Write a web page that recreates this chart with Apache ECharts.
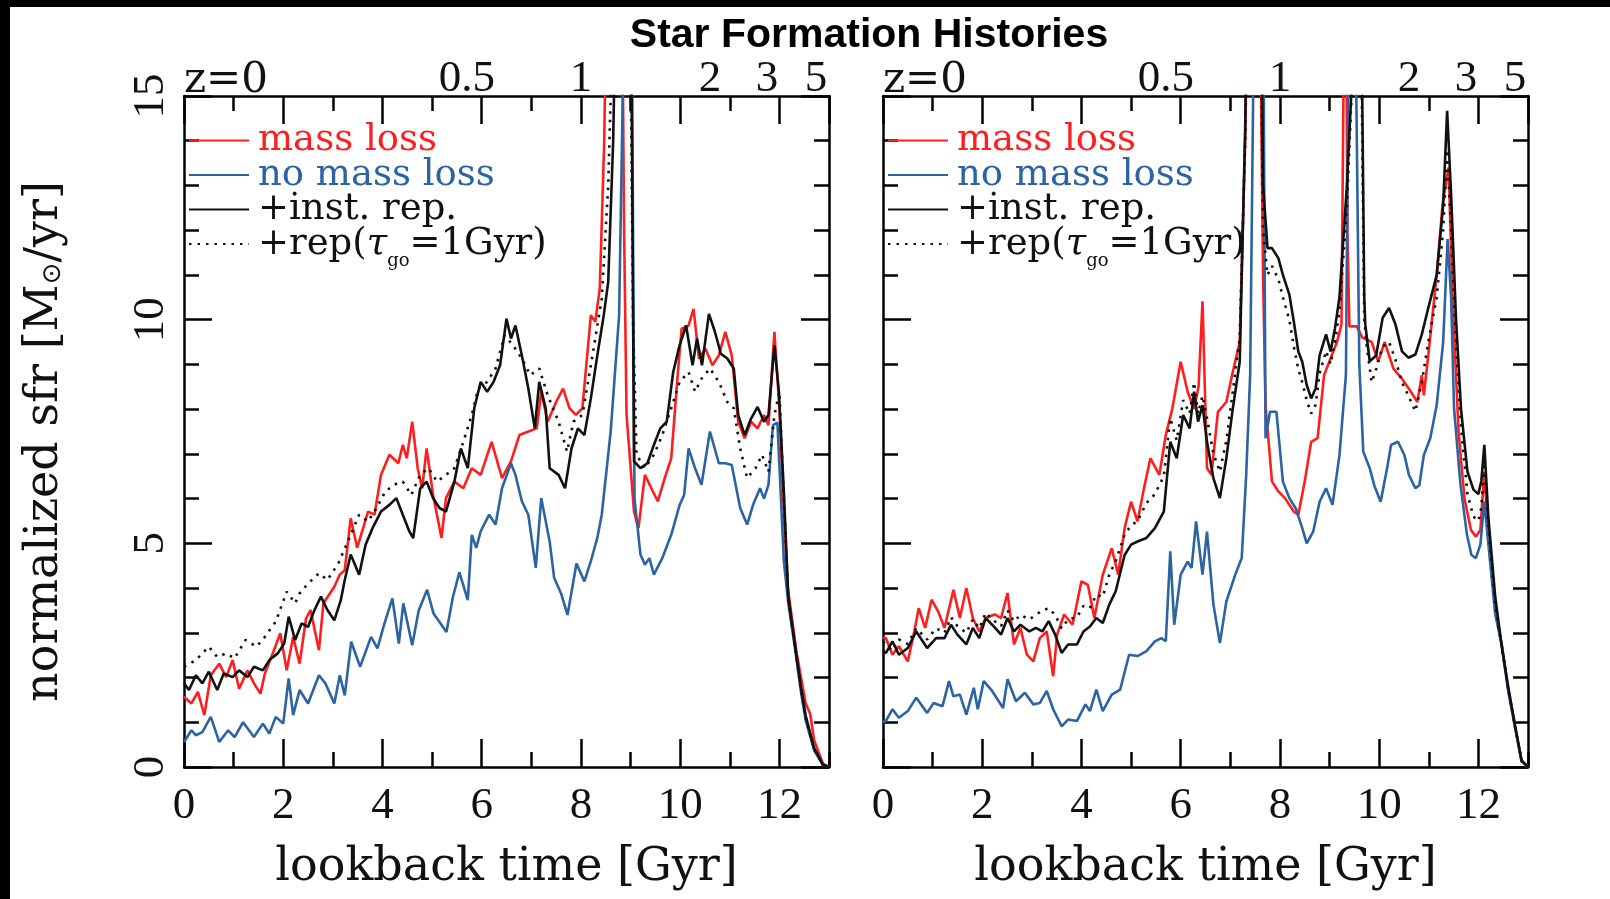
<!DOCTYPE html>
<html>
<head>
<meta charset="utf-8">
<title>Star Formation Histories</title>
<script src="https://cdn.jsdelivr.net/npm/echarts@6/dist/echarts.min.js"></script>
<style>
  html, body { margin: 0; padding: 0; background: #fff; }
  #chart { width: 1610px; height: 899px; }
</style>
</head>
<body>
<div id="chart"></div>
<script>
// ---- tick labels -------------------------------------------------------
const xTickStep = 2;                       // lookback time labels every 2 Gyr
const yTickStep = 5;                       // sfr labels every 5
const zLabels = ['z=0', '0.5', '1', '2', '3', '5'];
const zLookback = [0, 5.7, 8.0, 10.6, 11.75, 12.74];   // Gyr where each redshift label sits

const seriesNames = ['mass loss', 'no mass loss', '+inst. rep.', '+rep(\u03c4go=1Gyr)'];

// ---- left panel: [lookback time (Gyr), normalized sfr] -------------------
const leftMassLoss = [[0,1.57],[0.15,1.42],[0.28,1.68],[0.41,1.16],[0.54,2.05],[0.71,2.31],[0.85,2.01],[0.98,2.39],[1.11,1.75],[1.28,2.16],[1.41,1.87],[1.54,1.64],[1.63,2.09],[1.8,2.57],[1.94,2.99],[2.07,2.16],[2.2,2.91],[2.33,2.31],[2.46,3.32],[2.55,3.51],[2.72,2.61],[2.81,3.66],[3.03,4.03],[3.14,4.3],[3.24,4.4],[3.36,5.56],[3.49,4.9],[3.71,5.71],[3.84,5.64],[3.97,6.53],[4.14,6.98],[4.32,6.79],[4.41,7.2],[4.49,6.9],[4.6,7.72],[4.71,6.68],[4.8,6.23],[4.89,7.12],[5.02,6.08],[5.19,5.12],[5.28,6.01],[5.45,6.38],[5.63,6.23],[5.8,6.68],[5.98,6.53],[6.2,7.27],[6.41,6.46],[6.59,6.83],[6.76,7.42],[6.94,7.5],[7.11,7.57],[7.2,8.39],[7.33,7.72],[7.5,8.16],[7.64,8.46],[7.77,8.02],[7.9,7.87],[8.03,8.02],[8.2,10.1],[8.29,9.95],[8.38,10.7],[8.47,14],[8.55,20],[8.7,24],[8.82,19],[8.87,12],[8.92,7.87],[9.07,5.71],[9.16,5.34],[9.29,6.53],[9.42,6.23],[9.55,5.94],[9.69,6.46],[9.82,6.9],[9.95,8.76],[10.03,9.8],[10.17,9.87],[10.27,10.24],[10.38,9.13],[10.51,9.35],[10.65,8.98],[10.78,9.2],[10.91,9.73],[11.04,9.2],[11.17,7.72],[11.3,7.35],[11.43,7.72],[11.56,7.57],[11.69,7.87],[11.78,7.64],[11.9,9.73],[12.0,8.02],[12.09,5.64],[12.17,4.0],[12.35,2.54],[12.53,1.42],[12.62,1.19],[12.7,0.6],[12.88,0.07],[13.0,0]];

const leftNoMassLoss = [[0,0.56],[0.15,0.82],[0.24,0.71],[0.37,0.78],[0.54,1.12],[0.71,0.56],[0.89,0.82],[1.02,0.67],[1.19,1.0],[1.41,0.67],[1.59,0.97],[1.72,0.75],[1.85,1.12],[2.0,0.97],[2.11,1.98],[2.2,1.16],[2.33,1.72],[2.5,1.42],[2.72,2.05],[2.85,1.87],[3.03,1.42],[3.14,2.05],[3.24,1.6],[3.37,2.8],[3.55,2.24],[3.77,2.91],[3.9,2.65],[4.03,3.17],[4.2,3.77],[4.33,2.76],[4.42,3.66],[4.6,2.72],[4.73,3.5],[4.9,3.96],[5.03,3.43],[5.29,3.02],[5.42,3.8],[5.55,4.35],[5.72,3.73],[5.8,5.19],[5.89,4.9],[5.98,5.27],[6.15,5.64],[6.28,5.42],[6.41,6.23],[6.59,6.79],[6.68,6.53],[6.81,5.94],[6.94,5.64],[7.09,4.45],[7.2,6.01],[7.37,5.04],[7.46,4.23],[7.6,3.88],[7.73,3.4],[7.91,4.55],[8.07,4.15],[8.2,4.6],[8.33,5.12],[8.42,5.64],[8.6,7.5],[8.77,10.1],[8.85,15.5],[8.95,24],[9.03,16],[9.08,6.0],[9.2,4.75],[9.29,4.52],[9.38,4.67],[9.47,4.3],[9.64,4.67],[9.82,5.19],[9.99,5.86],[10.08,6.08],[10.17,7.12],[10.3,6.68],[10.43,6.31],[10.6,7.5],[10.78,6.79],[10.91,6.79],[11.04,6.75],[11.21,5.79],[11.35,5.42],[11.47,5.86],[11.61,6.23],[11.69,6.0],[11.78,6.31],[11.87,7.64],[11.96,7.7],[12.09,4.6],[12.18,3.66],[12.31,2.69],[12.44,1.64],[12.53,1.04],[12.7,0.37],[12.88,0.04],[13,0]];

const leftInstRep = [[0,1.87],[0.1,1.72],[0.24,2.05],[0.37,1.87],[0.5,2.13],[0.67,1.72],[0.8,2.09],[0.98,2.01],[1.11,2.16],[1.28,2.01],[1.41,2.24],[1.59,2.16],[1.72,2.39],[1.89,2.54],[2.02,2.76],[2.11,3.36],[2.24,2.84],[2.37,3.21],[2.5,3.13],[2.63,3.51],[2.76,3.81],[2.89,3.51],[3.03,3.28],[3.16,3.73],[3.24,4.18],[3.36,4.75],[3.53,4.3],[3.66,4.97],[3.8,5.34],[3.97,5.71],[4.14,5.86],[4.28,6.01],[4.41,5.64],[4.54,5.27],[4.62,5.12],[4.76,6.23],[4.89,6.38],[5.02,6.01],[5.15,5.79],[5.28,5.71],[5.45,6.38],[5.58,7.12],[5.72,6.68],[5.85,8.02],[5.98,8.61],[6.11,8.39],[6.24,8.61],[6.37,8.98],[6.5,10.02],[6.59,9.58],[6.68,9.87],[6.81,9.2],[6.94,8.46],[7.07,7.57],[7.16,8.61],[7.29,8.02],[7.37,6.68],[7.55,6.53],[7.68,6.23],[7.81,7.12],[7.94,7.57],[8.07,7.42],[8.2,8.24],[8.33,9.2],[8.46,10.1],[8.55,10.84],[8.65,14],[8.75,20],[8.9,23],[9.0,19],[9.04,12],[9.07,6.83],[9.2,6.68],[9.34,6.79],[9.47,7.2],[9.6,7.57],[9.73,7.72],[9.86,8.83],[9.99,9.43],[10.12,9.87],[10.25,8.98],[10.34,9.58],[10.44,8.98],[10.58,10.13],[10.7,9.73],[10.82,9.24],[10.95,9.13],[11.08,8.91],[11.17,7.87],[11.3,7.42],[11.43,7.79],[11.56,8.05],[11.69,7.72],[11.78,7.87],[11.9,9.43],[11.99,8.39],[12.09,6.16],[12.18,3.8],[12.31,2.75],[12.44,1.75],[12.53,1.15],[12.7,0.42],[12.88,0.05],[13,0]];

const leftDelayedRep = [[0,2.24],[0.24,2.39],[0.5,2.69],[0.67,2.46],[0.85,2.54],[1.02,2.43],[1.24,2.84],[1.46,2.69],[1.63,2.91],[1.85,3.25],[2.07,3.92],[2.24,3.66],[2.33,3.88],[2.5,4.1],[2.72,4.33],[2.89,4.18],[3.11,4.55],[3.36,5.19],[3.53,5.64],[3.71,5.49],[3.88,5.79],[4.06,6.16],[4.23,6.31],[4.41,6.38],[4.58,6.08],[4.76,6.53],[4.93,6.68],[5.1,6.38],[5.28,6.53],[5.45,6.68],[5.63,7.27],[5.8,7.87],[5.93,8.46],[6.11,8.61],[6.28,8.91],[6.46,9.65],[6.63,9.43],[6.81,9.13],[6.98,8.76],[7.16,8.91],[7.33,8.31],[7.55,7.72],[7.72,7.05],[7.85,7.72],[8.03,7.87],[8.2,8.98],[8.42,10.47],[8.55,13],[8.7,19],[8.9,21],[9.0,16],[9.05,10],[9.12,6.98],[9.29,6.68],[9.47,6.98],[9.64,7.42],[9.82,8.02],[9.99,8.61],[10.17,8.83],[10.3,8.39],[10.43,8.68],[10.6,8.91],[10.78,8.61],[10.95,8.16],[11.08,8.02],[11.21,7.12],[11.35,6.46],[11.52,6.68],[11.65,6.98],[11.78,6.6],[11.9,7.87],[12.0,8.39],[12.09,6.0],[12.18,3.75],[12.31,2.72],[12.44,1.7],[12.53,1.1],[12.7,0.4],[12.88,0.05],[13,0]];

// ---- right panel --------------------------------------------------------
const rightMassLoss = [[0,2.9],[0.06,2.88],[0.19,2.51],[0.32,2.7],[0.5,2.36],[0.63,3.03],[0.72,3.55],[0.85,3.11],[0.98,3.74],[1.11,3.48],[1.24,3.11],[1.42,3.96],[1.55,3.33],[1.68,4.0],[1.81,3.33],[1.94,3.03],[2.07,3.33],[2.25,3.41],[2.38,3.33],[2.51,3.89],[2.64,2.74],[2.77,3.11],[2.9,2.51],[3.03,2.36],[3.16,2.88],[3.3,3.03],[3.43,2.03],[3.51,2.96],[3.65,3.41],[3.82,3.18],[4.0,4.15],[4.13,4.07],[4.26,3.33],[4.43,4.3],[4.61,4.89],[4.74,4.3],[4.87,5.34],[5.0,5.93],[5.13,5.49],[5.26,6.23],[5.39,6.9],[5.57,6.53],[5.7,7.42],[5.83,8.01],[6.0,9.06],[6.14,8.39],[6.27,8.01],[6.36,8.5],[6.44,10.41],[6.53,6.68],[6.62,6.53],[6.75,7.94],[6.92,8.16],[7.05,8.83],[7.19,9.5],[7.3,14],[7.38,20],[7.5,24],[7.6,17],[7.66,11],[7.71,8.09],[7.84,6.38],[7.97,6.16],[8.1,6.01],[8.28,5.71],[8.37,5.64],[8.5,6.38],[8.63,7.27],[8.76,7.35],[8.89,8.76],[9.02,9.13],[9.15,9.5],[9.24,9.89],[9.28,15],[9.32,20],[9.36,12],[9.4,9.85],[9.55,9.85],[9.66,9.6],[9.85,9.5],[9.98,9.06],[10.11,9.5],[10.29,8.9],[10.46,8.68],[10.64,8.39],[10.77,8.16],[10.86,8.76],[10.9,8.31],[10.99,9.2],[11.16,11.0],[11.28,12.6],[11.4,13.4],[11.48,10.5],[11.6,7.5],[11.72,6.0],[11.85,5.3],[11.95,5.15],[12.04,5.3],[12.12,6.6],[12.2,5.2],[12.34,3.5],[12.47,2.75],[12.6,1.75],[12.74,0.9],[12.87,0.13],[13,0]];

const rightNoMassLoss = [[0,1.0],[0.06,1.03],[0.19,1.29],[0.32,1.1],[0.5,1.25],[0.67,1.55],[0.89,1.21],[1.02,1.43],[1.2,1.36],[1.33,1.92],[1.42,1.58],[1.55,1.62],[1.68,1.17],[1.83,1.77],[1.91,1.29],[2.03,1.92],[2.2,1.7],[2.42,1.32],[2.51,1.96],[2.68,1.47],[2.86,1.66],[3.03,1.4],[3.16,1.43],[3.3,1.7],[3.43,1.29],[3.6,0.91],[3.73,1.06],[3.91,1.03],[4.08,1.4],[4.17,1.25],[4.3,1.73],[4.43,1.25],[4.61,1.62],[4.78,1.73],[4.96,2.51],[5.13,2.48],[5.31,2.59],[5.48,2.81],[5.61,2.88],[5.7,2.81],[5.79,4.82],[5.87,3.18],[6.0,4.3],[6.14,4.59],[6.22,4.45],[6.31,5.49],[6.44,4.3],[6.53,5.26],[6.66,3.63],[6.79,2.77],[6.92,3.7],[7.1,4.3],[7.23,4.67],[7.32,6.53],[7.4,8.76],[7.47,16],[7.58,24],[7.67,16],[7.71,7.35],[7.8,7.94],[7.93,7.94],[8.06,6.38],[8.19,6.01],[8.32,5.78],[8.45,5.34],[8.54,5.0],[8.67,5.26],[8.8,5.93],[8.93,6.23],[9.06,5.86],[9.2,6.97],[9.33,8.76],[9.38,15.5],[9.45,24],[9.53,16],[9.6,9],[9.68,7.05],[9.81,6.68],[9.9,6.3],[10.03,5.93],[10.16,6.68],[10.24,7.2],[10.38,7.27],[10.51,6.97],[10.6,6.53],[10.73,6.23],[10.81,6.3],[10.9,6.97],[11.03,7.35],[11.16,8.09],[11.29,9.5],[11.38,11.8],[11.45,10.5],[11.51,8.01],[11.64,6.3],[11.77,5.19],[11.86,4.74],[11.95,4.67],[12.04,4.97],[12.12,5.93],[12.21,4.89],[12.34,3.41],[12.47,2.74],[12.6,1.7],[12.74,0.88],[12.87,0.13],[13,0]];

const rightInstRep = [[0,2.6],[0.06,2.55],[0.19,2.81],[0.32,2.51],[0.5,2.66],[0.67,3.03],[0.89,2.66],[1.07,2.88],[1.24,2.88],[1.37,3.18],[1.5,2.96],[1.68,2.74],[1.81,3.11],[1.94,2.88],[2.07,3.33],[2.2,3.18],[2.38,2.96],[2.51,3.33],[2.64,3.03],[2.77,3.18],[2.95,3.03],[3.08,3.11],[3.21,3.03],[3.34,3.26],[3.47,2.96],[3.6,2.55],[3.73,2.74],[3.91,2.74],[4.04,3.03],[4.17,3.14],[4.3,3.33],[4.43,3.22],[4.56,3.63],[4.69,3.93],[4.87,4.74],[5.0,4.97],[5.13,5.04],[5.31,5.12],[5.48,5.34],[5.66,5.71],[5.79,7.27],[5.92,6.9],[6.05,7.87],[6.18,7.57],[6.27,8.39],[6.35,7.72],[6.44,8.09],[6.53,7.27],[6.66,6.45],[6.79,6.01],[6.92,6.9],[7.05,8.01],[7.19,9.06],[7.3,14.3],[7.38,20],[7.5,24],[7.6,20],[7.66,13],[7.75,11.6],[7.84,11.6],[7.97,11.37],[8.06,11.0],[8.19,10.56],[8.28,9.96],[8.37,9.29],[8.45,9.06],[8.54,8.54],[8.63,8.24],[8.72,8.46],[8.8,9.2],[8.93,9.67],[9.02,9.29],[9.11,9.81],[9.2,10.5],[9.35,13],[9.48,16],[9.56,24],[9.65,16],[9.7,10.5],[9.72,9.9],[9.81,9.07],[9.94,9.2],[10.07,10.04],[10.2,10.26],[10.33,9.89],[10.46,9.29],[10.59,9.15],[10.73,9.22],[10.86,9.67],[10.99,10.26],[11.16,11.0],[11.29,12.56],[11.37,14.67],[11.45,12.8],[11.55,10.0],[11.65,8.0],[11.78,6.6],[11.9,6.2],[12.0,6.1],[12.06,6.4],[12.12,7.2],[12.2,5.6],[12.34,3.8],[12.47,2.7],[12.6,1.8],[12.74,0.92],[12.87,0.15],[13,0]];

const rightDelayedRep = [[0,2.8],[0.19,2.6],[0.32,2.85],[0.5,2.75],[0.67,3.1],[0.89,2.85],[1.07,3.1],[1.24,3.0],[1.37,3.35],[1.5,3.15],[1.68,3.0],[1.81,3.3],[1.94,3.1],[2.07,3.45],[2.2,3.3],[2.38,3.15],[2.51,3.5],[2.64,3.25],[2.77,3.4],[2.95,3.3],[3.08,3.4],[3.21,3.5],[3.34,3.55],[3.47,3.4],[3.6,3.1],[3.73,3.3],[3.91,3.35],[4.04,3.6],[4.17,3.55],[4.3,3.85],[4.43,3.8],[4.56,4.3],[4.69,4.6],[4.87,5.2],[5.0,5.4],[5.13,5.5],[5.31,5.9],[5.48,6.1],[5.66,6.5],[5.79,7.8],[5.92,7.3],[6.05,8.2],[6.18,7.9],[6.27,8.6],[6.35,7.9],[6.44,8.3],[6.53,7.8],[6.66,7.0],[6.79,6.6],[6.92,7.3],[7.05,8.4],[7.19,9.6],[7.3,14],[7.38,19],[7.5,22],[7.6,18],[7.66,12],[7.75,11.0],[7.84,11.2],[7.97,10.9],[8.06,10.5],[8.19,10.0],[8.28,9.4],[8.37,8.9],[8.45,8.6],[8.54,8.2],[8.63,7.9],[8.72,8.1],[8.8,8.8],[8.93,9.3],[9.02,9.0],[9.11,9.5],[9.2,10.2],[9.35,12.5],[9.48,16],[9.56,22],[9.65,15],[9.7,10],[9.75,9.4],[9.85,8.6],[9.94,8.9],[10.07,9.4],[10.2,9.5],[10.33,9.1],[10.46,8.6],[10.59,8.3],[10.73,7.95],[10.86,8.6],[10.99,9.5],[11.16,10.5],[11.29,12.0],[11.37,13.8],[11.45,12.0],[11.55,9.5],[11.65,7.6],[11.78,6.1],[11.9,5.6],[12.0,5.5],[12.06,5.8],[12.12,6.9],[12.2,5.4],[12.34,3.6],[12.47,2.7],[12.6,1.75],[12.74,0.9],[12.87,0.14],[13,0]];

// ---- styling ------------------------------------------------------------
const RED = '#ff1e1e', BLUE = '#2b63a3', BLACK = '#111111';
const LINE_W = 2.6;
const SERIF = '"DejaVu Serif", serif';
const NUM_FONT = '"Liberation Serif", serif';
const T_MAX = 13, SFR_MAX = 15;

const panels = [
  { left: 184, data: [leftMassLoss, leftNoMassLoss, leftInstRep, leftDelayedRep], yLabels: true },
  { left: 883, data: [rightMassLoss, rightNoMassLoss, rightInstRep, rightDelayedRep], yLabels: false }
];

const tickLine = { color: '#000', width: 2.5 };

const grids = [], xAxes = [], yAxes = [], series = [], legends = [];

panels.forEach((p, g) => {
  grids.push({ left: p.left, top: 96, width: 645, height: 671, containLabel: false });

  const xBase = { gridIndex: g, type: 'value', min: 0, max: T_MAX, splitLine: { show: false } };
  // bottom axis: long ticks + labels every 2 Gyr
  xAxes.push(Object.assign({}, xBase, {
    position: 'bottom', interval: xTickStep,
    axisLine: { show: true, onZero: false, lineStyle: tickLine },
    axisTick: { show: true, inside: true, length: 28, lineStyle: tickLine },
    axisLabel: { show: true, margin: 17, showMaxLabel: false, fontFamily: NUM_FONT, fontSize: 45, color: '#111' },
    name: 'lookback time [Gyr]', nameLocation: 'middle', nameGap: 78,
    nameTextStyle: { fontFamily: SERIF, fontSize: 46, color: '#111' }
  }));
  // bottom axis: short ticks every Gyr
  xAxes.push(Object.assign({}, xBase, {
    position: 'bottom', interval: 1,
    axisLine: { show: false, onZero: false },
    axisTick: { show: true, inside: true, length: 15, lineStyle: tickLine },
    axisLabel: { show: false }
  }));
  // top axis: long ticks + redshift labels
  xAxes.push(Object.assign({}, xBase, {
    position: 'top', interval: xTickStep,
    axisLine: { show: true, onZero: false, lineStyle: tickLine },
    axisTick: { show: true, inside: true, length: 28, lineStyle: tickLine },
    axisLabel: {
      show: true, margin: -6, customValues: zLookback,
      fontFamily: NUM_FONT, fontSize: 45, color: '#111',
      formatter: (v) => {
        const i = zLookback.indexOf(v);
        const t = i >= 0 ? zLabels[i] : '';
        return i === 0 ? '{z|' + t + '}' : t;
      },
      rich: { z: { fontFamily: SERIF, fontSize: 42, color: '#111', padding: [0, 0, 0, 84] } }
    }
  }));
  // top axis: short ticks every Gyr
  xAxes.push(Object.assign({}, xBase, {
    position: 'top', interval: 1,
    axisLine: { show: false, onZero: false },
    axisTick: { show: true, inside: true, length: 15, lineStyle: tickLine },
    axisLabel: { show: false }
  }));

  const yBase = {
    gridIndex: g, type: 'value', min: 0, max: SFR_MAX, interval: yTickStep,
    splitLine: { show: false },
    axisLine: { show: true, onZero: false, lineStyle: tickLine },
    axisTick: { show: true, inside: true, length: 28, lineStyle: tickLine },
    minorTick: { show: true, splitNumber: 5, length: 15, lineStyle: tickLine }
  };
  const yLeft = Object.assign({}, yBase, {
    position: 'left',
    axisLabel: { show: p.yLabels, rotate: 90, margin: 10, fontFamily: NUM_FONT, fontSize: 45, color: '#111' }
  });
  if (p.yLabels) {
    Object.assign(yLeft, {
      name: 'normalized sfr [M{sub|\u2299}/yr]', nameLocation: 'middle', nameGap: 116,
      nameTextStyle: {
        fontFamily: SERIF, fontSize: 46, color: '#111', padding: [0, 20, 0, 0],
        // solar symbol set as a subscript
        rich: { sub: { fontFamily: '"DejaVu Sans", sans-serif', fontSize: 26, color: '#111', padding: [8, 0, -8, 0] } }
      }
    });
  }
  yAxes.push(yLeft);
  yAxes.push(Object.assign({}, yBase, { position: 'right', axisLabel: { show: false } }));

  const colors = [RED, BLUE, BLACK, BLACK];
  p.data.forEach((d, k) => {
    series.push({
      name: seriesNames[k], type: 'line', data: d,
      xAxisIndex: g * 4, yAxisIndex: g * 2,
      symbol: 'none', showSymbol: false, clip: true, animation: false,
      lineStyle: { color: colors[k], width: LINE_W, type: k === 3 ? [2.5, 6] : 'solid' },
      itemStyle: { color: colors[k] },
      z: 2 + k
    });
  });

  legends.push({
    orient: 'vertical', left: p.left + 4, top: 122, padding: 0,
    itemWidth: 60, itemHeight: 4, itemGap: -2.5,
    itemStyle: { opacity: 0 },
    data: seriesNames.map((n, k) => ({ name: n, textStyle: { color: colors[k] } })),
    formatter: (n) => n === seriesNames[3] ? '+rep({tau|\u03c4}{sub|go}=1Gyr)' : n,
    textStyle: {
      fontFamily: SERIF, fontSize: 37, lineHeight: 30, padding: [0, 0, 0, 4],
      rich: {
        tau: { fontFamily: SERIF, fontSize: 37, fontStyle: 'italic', color: '#111' },
        // "go" hangs below the baseline as a subscript
        sub: { fontFamily: SERIF, fontSize: 18, color: '#111', padding: [17, 0, -17, 0] }
      }
    }
  });
});

const chart = echarts.init(document.getElementById('chart'), null, { renderer: 'canvas' });
chart.setOption({
  backgroundColor: '#ffffff',
  animation: false,
  grid: grids,
  xAxis: xAxes,
  yAxis: yAxes,
  legend: legends,
  series: series,
  graphic: [
    // dark edge strips along the top and left of the figure
    { type: 'rect', left: 0, top: 0, shape: { width: 1610, height: 7 }, style: { fill: '#000' }, z: 100 },
    { type: 'rect', left: 0, top: 0, shape: { width: 10, height: 899 }, style: { fill: '#000' }, z: 100 },
    { type: 'text', x: 869, y: 36, z: 100,
      style: { text: 'Star Formation Histories', textAlign: 'center', textVerticalAlign: 'middle',
               font: 'bold 41px "Liberation Sans", Arial, sans-serif', fill: '#000' } }
  ]
});
</script>
</body>
</html>
